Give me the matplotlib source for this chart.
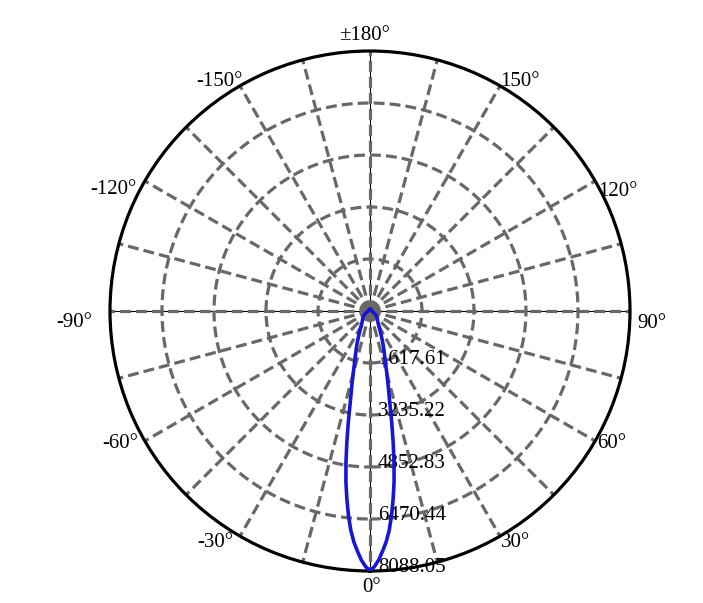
import matplotlib.pyplot as plt
import numpy as np

plt.rcParams['font.family'] = ['Liberation Serif', 'DejaVu Serif']

# luminous intensity (cd) vs angle from axis (symmetric)
angles_deg = [0, 1, 2, 3, 4, 5, 6, 7, 8, 9, 10, 11, 12, 13, 14, 15, 16, 18, 20, 22, 25,
              30, 35, 40, 45, 50, 60, 70, 80, 90, 100, 120, 140, 160, 180]
intensity = [8088.05, 7950, 7750, 7480, 7200, 6850, 6400, 5900, 5380, 4780, 4150, 3550,
             3000, 2600, 2300, 2030, 1800, 1480, 1250, 1060, 820, 560, 430, 360, 320, 270,
             180, 110, 70, 50, 50, 50, 50, 50, 50]

ring_values = [1617.61, 3235.22, 4852.83, 6470.44, 8088.05]
label_angles = [0, 30, 60, 90, 120, 150, 180, -150, -120, -90, -60, -30]
label_texts = ['0°', '30°', '60°', '90°', '120°', '150°', '±180°',
               '-150°', '-120°', '-90°', '-60°', '-30°']
# pixel offsets of each label from the end of its spoke (x, y up) and alignment
label_offsets = {0: (2, -16, 'center'), 30: (1, -6, 'left'), 60: (2, -2, 'left'),
                 90: (7, -12, 'left'), 120: (3, -10, 'left'), 150: (0, 4, 'left'),
                 180: (-5, 15, 'center'), -150: (3, 4, 'right'), -120: (-8, -9, 'right'),
                 -90: (-18, -12, 'right'), -60: (-7, -2, 'right'), -30: (-7, -6, 'right')}


def main():
    rmax = ring_values[-1]
    fig = plt.figure(figsize=(7.03, 6.03), dpi=100)
    ax = fig.add_axes([110 / 703, 32 / 603, 520 / 703, 520 / 603], projection='polar')
    ax.set_theta_zero_location('S')
    ax.set_theta_direction(1)
    ax.set_rlim(0, rmax)
    ax.set_xticks([])
    ax.set_yticks([])
    ax.grid(False)
    ax.spines['polar'].set_linewidth(2.3)
    ax.spines['polar'].set_color('black')

    grey = '#686868'
    dash = (0, (3.4, 1.6))

    # thin black cross under the dashed grid
    for a in [0, 90, 180, 270]:
        th = np.deg2rad(a)
        ax.plot([th, th], [0, rmax], color='black', lw=0.8, zorder=1)

    for a in range(0, 360, 15):
        th = np.deg2rad(a)
        ax.plot([th, th], [0, rmax], color=grey, lw=2.3, ls=dash, zorder=2)

    circ = np.linspace(0, 2 * np.pi, 400)
    for rv in ring_values[:-1]:
        ax.plot(circ, np.full_like(circ, rv), color=grey, lw=2.3, ls=dash, zorder=2)

    ax.fill(circ, np.full_like(circ, 280), color=grey, zorder=3, lw=0)

    # radial labels along the 0° spoke
    for rv in ring_values:
        ax.annotate(f'{rv:.2f}', xy=(0, rv), xytext=(8, 4), textcoords='offset pixels',
                    ha='left', va='center', fontsize=15, zorder=4)

    for a, t in zip(label_angles, label_texts):
        dx, dy, ha = label_offsets[a]
        ax.annotate(t, xy=(np.deg2rad(a), rmax), xytext=(dx, dy), textcoords='offset pixels',
                    ha=ha, va='center', fontsize=15, annotation_clip=False)

    ang = np.array(angles_deg, dtype=float)
    val = np.array(intensity)
    full_ang = np.concatenate([-ang[::-1], ang[1:]])
    full_val = np.concatenate([val[::-1], val[1:]])
    ax.plot(np.deg2rad(full_ang), full_val, color='#1616d4', lw=2.6, zorder=5)

    fig.savefig('out.png', dpi=100)


if __name__ == '__main__':
    main()
